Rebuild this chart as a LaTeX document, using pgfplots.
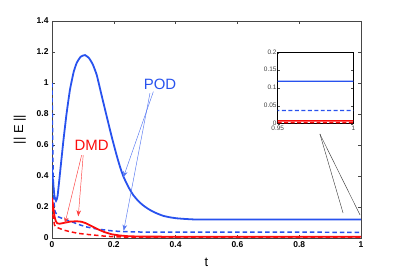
\documentclass[border=0pt]{standalone}
\usepackage{pgfplots}
\usepackage{pgfplotstable}
\pgfplotsset{compat=1.18}
\usetikzlibrary{arrows.meta}
\usepackage{fontspec}
\setmainfont{Liberation Sans}
\definecolor{podblue}{RGB}{40,82,238}
\definecolor{dmdred}{RGB}{252,12,12}

\pgfplotstableread{
t y
0 0.45
0.004 0.35
0.008 0.27
0.013 0.24
0.018 0.27
0.026 0.42
0.037 0.63
0.047 0.80
0.058 0.955
0.07 1.07
0.08 1.13
0.093 1.17
0.107 1.18
0.12 1.16
0.132 1.12
0.145 1.05
0.16 0.925
0.177 0.785
0.193 0.655
0.209 0.535
0.22 0.46
0.231 0.397
0.247 0.33
0.263 0.277
0.28 0.237
0.296 0.209
0.312 0.187
0.328 0.169
0.344 0.155
0.36 0.143
0.38 0.134
0.404 0.127
0.43 0.123
0.457 0.120
0.5 0.119
0.95 0.119
1 0.119
}\podsolid

\pgfplotstableread{
t y
0 1.0
0.002 0.65
0.004 0.38
0.007 0.22
0.01 0.17
0.02 0.137
0.035 0.125
0.048 0.116
0.07 0.1
0.09 0.085
0.11 0.072
0.14 0.06
0.177 0.05
0.2 0.045
0.23 0.041
0.3 0.038
0.95 0.037
1 0.037
}\poddash

\pgfplotstableread{
t y
0 0.26
0.004 0.20
0.008 0.14
0.012 0.11
0.017 0.095
0.025 0.092
0.04 0.098
0.06 0.106
0.08 0.108
0.095 0.105
0.11 0.095
0.13 0.075
0.15 0.055
0.17 0.038
0.193 0.024
0.22 0.016
0.25 0.011
0.3 0.009
0.5 0.008
0.95 0.008
1 0.008
}\dmdsolid

\pgfplotstableread{
t y
0 0.2
0.004 0.13
0.008 0.085
0.012 0.072
0.02 0.065
0.04 0.05
0.06 0.04
0.085 0.03
0.11 0.024
0.14 0.018
0.17 0.012
0.2 0.008
0.25 0.005
0.3 0.003
0.95 0.003
1 0.003
}\dmddash

\begin{document}
\begin{tikzpicture}[x=1bp,y=1bp]
\useasboundingbox (0,0) rectangle (399,271);
\begin{axis}[
  at={(52bp,33bp)}, anchor=south west,
  scale only axis, width=309bp, height=217bp,
  xmin=0, xmax=1, ymin=0, ymax=1.4,
  xtick={0,0.2,0.4,0.6,0.8,1},
  ytick={0,0.2,0.4,0.6,0.8,1,1.2,1.4},
  tick align=inside,
  major tick length=3bp,
  axis line style={gray!55!black, line width=0.6pt},
  tick style={gray!55!black, line width=0.4pt},
  ticklabel style={font=\fontsize{8.5}{10}\selectfont\bfseries},
  /pgf/number format/assume math mode=true,
  xlabel={t}, ylabel={|| E ||},
  label style={font=\fontsize{13}{15}\selectfont},
  xlabel style={at={(axis description cs:0.5,-0.11)}, anchor=center},
  ylabel style={at={(axis description cs:-0.104,0.5)}, anchor=center},
  clip=true,
]
\addplot[podblue, line width=1.8pt, smooth, tension=0.3] table {\podsolid};
\addplot[podblue, line width=1.5pt, dash pattern=on 4.5pt off 3pt] table {\poddash};
\addplot[dmdred, line width=1.8pt] table {\dmdsolid};
\addplot[dmdred, line width=1.5pt, dash pattern=on 4.5pt off 3pt] table {\dmddash};

\node[podblue, font=\fontsize{15}{17}\selectfont] at (axis cs:0.3495,0.99) {POD};
\node[dmdred, font=\fontsize{15}{17}\selectfont] at (axis cs:0.128,0.60) {DMD};
\draw[podblue!80, line width=0.45pt, -{Stealth[length=6pt,width=4.5pt]}] (axis cs:0.328,0.944) -- (axis cs:0.231,0.392);
\draw[podblue!80, line width=0.45pt, -{Stealth[length=6pt,width=4.5pt]}] (axis cs:0.317,0.934) -- (axis cs:0.232,0.047);
\draw[dmdred!80, line width=0.45pt, -{Stealth[length=6pt,width=4.5pt]}] (axis cs:0.101,0.535) -- (axis cs:0.085,0.14);
\draw[dmdred!80, line width=0.45pt, -{Stealth[length=6pt,width=4.5pt]}] (axis cs:0.096,0.535) -- (axis cs:0.042,0.095);
\draw[black!80, line width=0.4pt] (axis cs:0.867,0.671) -- (axis cs:0.942,0.161);
\draw[black!80, line width=0.4pt] (axis cs:0.867,0.671) -- (axis cs:0.997,0.148);
\end{axis}

\begin{axis}[
  at={(277.7bp,147.3bp)}, anchor=south west,
  scale only axis, width=75.6bp, height=71.4bp,
  xmin=0.95, xmax=1, ymin=0, ymax=0.2,
  xtick={0.95,1}, ytick={0,0.05,0.1,0.15,0.2},
  xticklabels={0.95,1},
  yticklabels={0,0.05,0.1,0.15,0.2},
  tick align=inside, major tick length=2bp,
  axis line style={black, line width=0.5pt},
  tick style={gray!60!black, line width=0.3pt},
  ticklabel style={font=\fontsize{6.5}{7.5}\selectfont, text=black!75, inner sep=1pt},
  xticklabel style={yshift=-1.5pt},
  yticklabel style={yshift=0.5pt},
  axis background/.style={fill=white},
  clip=true,
]
\addplot[podblue, line width=1.3pt] table {\podsolid};
\addplot[podblue, line width=1.3pt, dash pattern=on 4pt off 2.5pt] table {\poddash};
\addplot[dmdred, line width=1.6pt] table {\dmdsolid};
\addplot[dmdred, line width=1.3pt, dash pattern=on 4pt off 2.5pt] table {\dmddash};
\end{axis}
\end{tikzpicture}
\end{document}
